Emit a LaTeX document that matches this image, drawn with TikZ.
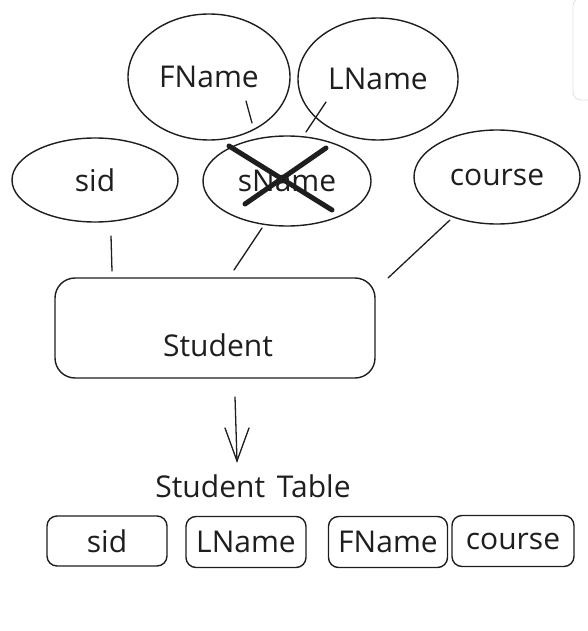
\documentclass[tikz,border=0pt]{standalone}
\usepackage{fontspec}
\setmainfont{Open Sans}
\usetikzlibrary{shapes.geometric}
\definecolor{ink}{HTML}{1E1E1E}
\tikzset{
  ink/.style={draw=ink, line width=1.4pt},
  txtfont/.style={font=\fontsize{30}{34}\selectfont, text=ink},
  attr/.style={ellipse, ink, inner sep=0pt, txtfont},
  entbox/.style={rectangle, ink, rounded corners=20pt, inner sep=0pt},
  colbox/.style={rectangle, ink, rounded corners=10pt, inner sep=0pt, txtfont},
  lbl/.style={txtfont, inner sep=0pt},
  conn/.style={draw=ink, line width=1.3pt, line cap=round},
  crossout/.style={draw=ink, line width=5pt, line cap=round},
}
\begin{document}
\begin{tikzpicture}[x=1pt,y=-1pt]
\useasboundingbox (0,0) rectangle (587,631);
% UI panel edge
\draw[draw=black!12, line width=0.8pt, rounded corners=8pt] (590,-2) -- (573,-2) -- (573,100) -- (590,100);
% attributes
\node[attr, minimum width=162pt, minimum height=126pt] (fname) at (209,77) {FName};
\node[attr, minimum width=160pt, minimum height=122pt] (lname) at (378,79) {LName};
\node[attr, minimum width=166pt, minimum height=84pt] (sid) at (95,180) {sid};
\node[attr, minimum width=168pt, minimum height=90pt] (sname) at (287,181) {sName};
\node[attr, minimum width=166pt, minimum height=94pt] (course) at (497,177) {course};
% entity
\node[entbox, minimum width=320pt, minimum height=100pt] (student) at (215,328) {};
\node[lbl] (studentlbl) at (218,345) {Student};
% connectors
\coordinate (c1a) at (111,236); \coordinate (c1b) at (112,271);
\draw[conn] (c1a) -- (c1b);
\coordinate (c2a) at (262,228); \coordinate (c2b) at (234,270);
\draw[conn] (c2a) -- (c2b);
\coordinate (c3a) at (450,220); \coordinate (c3b) at (388,278);
\draw[conn] (c3a) -- (c3b);
\coordinate (c4a) at (246,101); \coordinate (c4b) at (252,123);
\draw[conn] (c4a) -- (c4b);
\coordinate (c5a) at (326,102); \coordinate (c5b) at (306,132);
\draw[conn] (c5a) -- (c5b);
% cross over sName
\coordinate (x1a) at (229,146); \coordinate (x1b) at (332,210);
\coordinate (x2a) at (245,204); \coordinate (x2b) at (326,148);
\draw[crossout] (x1a) -- (x1b);
\draw[crossout] (x2a) -- (x2b);
% arrow
\coordinate (ar1) at (235,397); \coordinate (ar2) at (237,461);
\coordinate (arl) at (225,428); \coordinate (arr) at (249,428);
\draw[conn] (ar1) -- (ar2);
\draw[conn] (arl) -- (ar2) -- (arr);
% table
\node[lbl] (tabletitle) at (253,486) {Student\hspace{4pt} Table};
\node[colbox, minimum width=120pt, minimum height=50pt] (tsid) at (107,541) {sid};
\node[colbox, minimum width=120pt, minimum height=51pt] (tlname) at (246,542) {LName};
\node[colbox, minimum width=119pt, minimum height=51pt] (tfname) at (388,542) {FName};
\node[colbox, minimum width=122pt, minimum height=51pt] (tcourse) at (513,541) {course};
\end{tikzpicture}
\end{document}
